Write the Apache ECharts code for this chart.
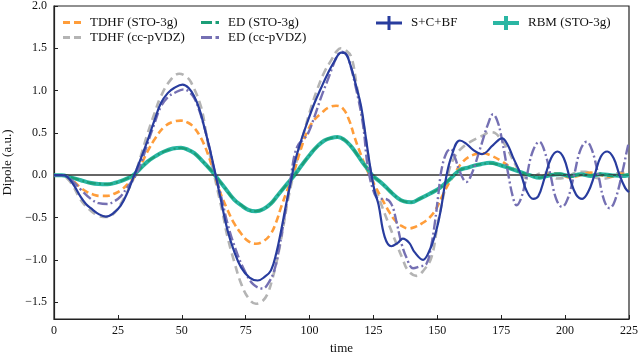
<!DOCTYPE html>
<html>
<head>
<meta charset="utf-8">
<script src="https://cdn.jsdelivr.net/npm/echarts@6/dist/echarts.min.js"></script>
<style>
  html, body { margin: 0; padding: 0; background: #fff; }
  #chart { width: 640px; height: 352px; }
</style>
</head>
<body>
<div id="chart"></div>
<script>
// [time, dipole] pairs
const tdhfSto = [
  [0,0],[3,0],[5.5,-0.02],[8,-0.08],[10.5,-0.15],[13,-0.2],[15.5,-0.23],[18,-0.245],[20.9,-0.245],
  [23.5,-0.22],[26.1,-0.18],[29,-0.1],[32,0],[34.5,0.15],[36.6,0.28],[39.5,0.43],[43.1,0.57],
  [46.5,0.63],[49.7,0.645],[52.5,0.62],[54.9,0.56],[57.5,0.44],[60.1,0.26],[62.7,0.02],[65,-0.2],
  [67.9,-0.41],[70.5,-0.57],[73.2,-0.69],[76,-0.78],[79,-0.81],[82,-0.78],[84.9,-0.69],[87,-0.55],
  [88.9,-0.375],[91,-0.2],[93.5,0],[96.5,0.3],[99.3,0.53],[102,0.66],[104.5,0.73],[107.5,0.8],
  [110.4,0.82],[113,0.79],[115.5,0.65],[117.6,0.45],[120,0.25],[122.8,0.04],[125.5,-0.12],
  [128,-0.26],[130.5,-0.4],[133.3,-0.53],[136,-0.6],[138.8,-0.63],[141.5,-0.61],[144,-0.57],
  [147,-0.5],[149.5,-0.4],[152,-0.24],[156,-0.02],[160,0.16],[164,0.24],[168,0.26],[170.4,0.24],
  [174.4,0.18],[178.4,0.1],[182.3,0.04],[186,0],[190,-0.02],[194,0.02],[198,0.01],[202,-0.03],
  [206,0],[210,0.03],[214,0],[218,-0.02],[222,0.02],[225,0.01]
];
const tdhfCc = [
  [0,0],[3,0],[5.2,-0.04],[7.5,-0.13],[9.8,-0.26],[12,-0.35],[14.4,-0.42],[17.5,-0.48],[20.9,-0.495],
  [23.5,-0.45],[26.1,-0.34],[28.8,-0.19],[31.4,-0.02],[34,0.23],[36.6,0.49],[39.2,0.72],[41.8,0.93],
  [45.7,1.13],[49,1.2],[51.5,1.17],[53.6,1.1],[57.5,0.81],[59.5,0.5],[61.4,0.18],[62.7,0],[66,-0.45],
  [67.9,-0.73],[70.5,-1.02],[73.2,-1.28],[76,-1.45],[79,-1.52],[81.5,-1.49],[83.6,-1.4],[85.5,-1.22],
  [87.5,-0.97],[89.5,-0.65],[91.5,-0.3],[94.1,0.06],[96,0.3],[98,0.53],[100.6,0.8],[103.2,1.03],
  [105.8,1.22],[108.5,1.36],[110.5,1.46],[112.2,1.5],[114,1.48],[116.3,1.4],[118.5,1.05],[121.5,0.53],
  [124.1,0.02],[126,-0.17],[128,-0.34],[131,-0.58],[134,-0.81],[136.3,-0.98],[138.5,-1.125],
  [141.8,-1.19],[144.5,-1.13],[147.7,-0.97],[150,-0.6],[152,-0.3],[154.8,0.08],[156.5,0.2],
  [158.8,0.3],[162.7,0.39],[167.9,0.47],[170.5,0.51],[172.5,0.5],[175,0.42],[177,0.335],[181,0.1],
  [183,0.02],[184.9,-0.04],[187.5,-0.02],[190,0.02],[193,0.03],[196.7,-0.04],[200,-0.03],[204,0.03],
  [208,0.04],[212,-0.03],[216,-0.04],[220,0.02],[225,0.04]
];
const edSto = [
  [0,0],[3,0],[6,-0.02],[10.5,-0.06],[14,-0.09],[17.5,-0.1],[20.9,-0.105],[24,-0.09],[26.1,-0.07],
  [28.5,-0.04],[31,0],[33.5,0.07],[36.6,0.16],[40,0.23],[43.1,0.28],[46.5,0.31],[49.7,0.32],
  [52.5,0.3],[54.9,0.26],[58,0.17],[61.4,0.06],[63,0],[66.6,-0.14],[70.5,-0.29],[73.2,-0.35],
  [76,-0.41],[79,-0.425],[82,-0.4],[84.9,-0.335],[87.5,-0.24],[90.2,-0.14],[94.1,0],[97,0.12],
  [100.6,0.26],[103,0.34],[105.8,0.41],[108.5,0.44],[111,0.45],[113.5,0.42],[116,0.35],[118.5,0.25],
  [120.5,0.16],[122.8,0.07],[124.5,0],[128.5,-0.1],[131.5,-0.19],[134.5,-0.27],[137,-0.31],
  [139.8,-0.32],[143,-0.28],[147,-0.22],[151,-0.15],[154.8,-0.05],[158.8,0.06],[162,0.09],
  [164,0.11],[167,0.13],[170.6,0.14],[174.4,0.12],[178.4,0.08],[182.3,0.04],[186.2,0],[190.1,-0.03],
  [194,0.01],[198,0.02],[202,-0.02],[206,0.01],[210,0],[214,0.02],[218,-0.01],[222,0],[225,0.01]
];
const edCc = [
  [0,0],[3,0],[5.5,-0.02],[8,-0.09],[10.5,-0.17],[14.4,-0.28],[17.5,-0.33],[20.9,-0.34],[23.5,-0.31],
  [26.1,-0.25],[29,-0.13],[32,0],[34.5,0.18],[36.6,0.375],[39.2,0.6],[41.8,0.81],[44.5,0.92],
  [47,0.97],[51,1.015],[53,0.98],[54.9,0.91],[56.9,0.76],[58.8,0.57],[60.8,0.33],[62.7,0.06],
  [65,-0.2],[67.9,-0.57],[71,-0.87],[74.5,-1.125],[78,-1.29],[81.7,-1.34],[84,-1.27],[86.2,-1.125],
  [88.2,-0.85],[90.2,-0.49],[92.8,0],[94.2,0.25],[95.8,0.37],[97.5,0.42],[99.5,0.5],[101.9,0.69],
  [104.5,0.92],[107.1,1.125],[109.5,1.32],[111,1.42],[112.6,1.46],[114,1.44],[115,1.4],[118,1.05],
  [120.9,0.6],[122.8,0.1],[125.4,-0.22],[127.4,-0.28],[129.4,-0.28],[132,-0.34],[134,-0.55],
  [136,-0.81],[138,-0.98],[140.5,-1.1],[143,-1.08],[145.7,-1.05],[147.5,-0.85],[149,-0.57],
  [150.5,-0.2],[151.6,0.06],[153.5,0.26],[155.2,0.31],[157,0.2],[158.8,0.04],[161.4,-0.08],
  [163.5,0.02],[166.6,0.3],[169.9,0.61],[171.8,0.72],[173.5,0.64],[175.1,0.45],[177.7,0.02],
  [179.5,-0.25],[181,-0.355],[182.8,-0.27],[184.9,-0.02],[187.3,0.28],[189.9,0.395],[192,0.28],
  [194.3,0],[196.5,-0.28],[198.8,-0.375],[201,-0.28],[203.5,0],[206,0.3],[208.4,0.395],[210.5,0.3],
  [213,0],[215.3,-0.3],[217.4,-0.39],[219.5,-0.3],[222.5,0.05],[224.7,0.36],[225,0.37]
];
const scbf = [
  [0,0],[3,0],[5.2,-0.02],[7.8,-0.12],[10.5,-0.26],[12.5,-0.34],[14.4,-0.39],[17.5,-0.46],[20.3,-0.49],
  [23.2,-0.45],[26.1,-0.36],[28.8,-0.2],[31.4,0],[34,0.2],[36.6,0.41],[39.2,0.64],[41.8,0.85],
  [44.5,0.97],[47,1.03],[50.3,1.07],[52.7,1.03],[54.9,0.93],[56.9,0.78],[58.8,0.57],[60.8,0.33],
  [62.7,0.08],[65,-0.25],[67.9,-0.65],[70.5,-0.9],[73.2,-1.09],[76.5,-1.21],[79.7,-1.245],[82.5,-1.2],
  [84.9,-1.125],[87,-0.92],[88.9,-0.65],[90.8,-0.35],[92.8,-0.06],[94.1,0.14],[96.7,0.41],[99.3,0.64],
  [101.9,0.85],[104.5,1.03],[107.1,1.2],[109.8,1.35],[112.4,1.45],[114,1.44],[116,1.3],[118,1.08],
  [120.2,0.81],[122,0.45],[123.5,0.14],[125.4,-0.18],[127,-0.35],[129.4,-0.73],[132,-0.84],
  [134.5,-0.8],[136.5,-0.75],[139,-0.8],[141.1,-0.91],[144.4,-1.0],[146.5,-0.92],[149,-0.72],
  [151.3,-0.42],[153.3,-0.05],[155.5,0.22],[158.8,0.41],[161,0.38],[164,0.3],[167.5,0.25],
  [171.8,0.355],[175.3,0.435],[177.5,0.36],[179.5,0.22],[182.8,0],[185,-0.19],[187.5,-0.28],
  [189.5,-0.25],[192,-0.03],[194.5,0.2],[197,0.28],[199.5,0.2],[202,-0.05],[204.3,-0.23],
  [206.7,-0.28],[209,-0.2],[211.5,0],[214,0.22],[216.5,0.28],[219,0.2],[221.3,0],[223.5,-0.15],
  [225,-0.2]
];
const rbm = [
  [0,0],[3,0],[6,-0.02],[10.5,-0.06],[14,-0.09],[17.5,-0.105],[20.9,-0.107],[24,-0.09],[26.1,-0.07],
  [28.5,-0.04],[31,0],[33.5,0.07],[36.6,0.16],[40,0.23],[43.1,0.28],[46.5,0.315],[49.7,0.325],
  [52.5,0.3],[54.9,0.26],[58,0.17],[61.4,0.06],[63,0],[66.6,-0.14],[70.5,-0.29],[73.2,-0.355],
  [76,-0.41],[79,-0.427],[82,-0.4],[84.9,-0.335],[87.5,-0.24],[90.2,-0.14],[94.1,0],[97,0.12],
  [100.6,0.26],[103,0.34],[105.8,0.41],[108.5,0.44],[111,0.45],[113.5,0.42],[116,0.35],[118.5,0.25],
  [120.5,0.16],[122.8,0.07],[124.5,0],[128.5,-0.1],[131.5,-0.19],[134.5,-0.27],[137,-0.31],
  [139.8,-0.32],[143,-0.28],[147,-0.22],[151,-0.15],[154.8,-0.05],[158.8,0.06],[162,0.09],
  [164,0.11],[167,0.13],[170.6,0.146],[174.4,0.12],[178.4,0.08],[182.3,0.04],[186.2,0],[190.1,-0.03],
  [194,0],[198,0.01],[202,-0.01],[206,0.01],[210,-0.01],[214,0.01],[218,0],[222,-0.01],[225,0]
];

const seriesNames = ['TDHF (STO-3g)', 'TDHF (cc-pVDZ)', 'ED (STO-3g)', 'ED (cc-pVDZ)', 'S+C+BF', 'RBM (STO-3g)'];
const seriesColors = ['#ff9d3a', '#b4b4b4', '#1b9e77', '#7570b3', '#283c9e', '#2ab6a3'];
const xTicks = [0, 225, 25];
const yRange = [-1.7, 2.0];

const font = 'Liberation Serif, Times New Roman, serif';
const dashIcon = 'path://M0,0h7v3h-7zM11,0h7v3h-7z';
const dashDotIcon = 'path://M0,0h11v3h-11zM14.5,0h3.5v3h-3.5z';
const barIcon = 'path://M0,5.5h26v3h-26zM11.5,0h3v14h-3z';
const thickBarIcon = 'path://M0,5h26v4h-26zM11,0h4v14h-4z';

function line(i, data, width, dash, z) {
  return {
    name: seriesNames[i],
    type: 'line',
    data: data,
    symbol: 'none',
    smooth: 0.4,
    z: z,
    color: seriesColors[i],
    itemStyle: { color: seriesColors[i] },
    lineStyle: { color: seriesColors[i], width: width, type: dash, cap: 'butt' }
  };
}

const legendBase = {
  orient: 'vertical',
  top: 11,
  itemGap: 2,
  selectedMode: false,
  itemStyle: { borderWidth: 0 },
  textStyle: { fontFamily: font, fontSize: 13, color: '#111', padding: [0, 0, 0, 4] }
};

const chart = echarts.init(document.getElementById('chart'));
const greySeries = line(1, tdhfCc, 2.6, [8, 5], 2);
greySeries.markLine = {
  silent: true,
  symbol: 'none',
  label: { show: false },
  lineStyle: { color: '#333', width: 1.5, type: 'solid' },
  data: [{ yAxis: 0 }]
};

chart.setOption({
  animation: false,
  grid: {
    left: 54, right: 11, top: 6, bottom: 33,
    outerBoundsMode: 'none', containLabel: false,
    show: true, borderColor: '#222', borderWidth: 1.2
  },
  legend: [
    Object.assign({}, legendBase, { left: 58, itemWidth: 18, itemHeight: 3,
      data: [{ name: seriesNames[0], icon: dashIcon }, { name: seriesNames[1], icon: dashIcon }] }),
    Object.assign({}, legendBase, { left: 196, itemWidth: 18, itemHeight: 3,
      data: [{ name: seriesNames[2], icon: dashDotIcon }, { name: seriesNames[3], icon: dashDotIcon }] }),
    Object.assign({}, legendBase, { left: 371, itemWidth: 26, itemHeight: 14,
      data: [{ name: seriesNames[4], icon: barIcon }] }),
    Object.assign({}, legendBase, { left: 488, itemWidth: 26, itemHeight: 14,
      data: [{ name: seriesNames[5], icon: thickBarIcon }] })
  ],
  xAxis: {
    type: 'value',
    min: xTicks[0], max: xTicks[1], interval: xTicks[2],
    name: 'time', nameLocation: 'middle', nameGap: 21,
    nameTextStyle: { fontFamily: font, fontSize: 13, color: '#111' },
    axisLine: { onZero: false, lineStyle: { color: '#222', width: 1.2 } },
    axisTick: { inside: true, length: 4, lineStyle: { color: '#222' } },
    axisLabel: { fontFamily: font, fontSize: 12, color: '#111', margin: 6 },
    splitLine: { show: false }
  },
  yAxis: {
    type: 'value',
    min: yRange[0], max: yRange[1], splitNumber: 7,
    name: 'Dipole (a.u.)', nameLocation: 'middle', nameGap: 26,
    nameTextStyle: { fontFamily: font, fontSize: 13, color: '#111' },
    axisLine: { show: true, lineStyle: { color: '#222', width: 1.2 } },
    axisTick: { inside: true, length: 4, lineStyle: { color: '#222' } },
    axisLabel: {
      fontFamily: font, fontSize: 12, color: '#111', margin: 7, showMinLabel: false,
      formatter: v => (Math.abs(v * 2 - Math.round(v * 2)) > 1e-6 ? '' : v.toFixed(1).replace('-', '\u2212'))
    },
    splitLine: { show: false }
  },
  series: [
    greySeries,
    line(0, tdhfSto, 2.6, [7, 4], 3),
    line(5, rbm, 4, 'solid', 4),
    line(2, edSto, 2.2, [9, 3, 2, 3], 5),
    line(3, edCc, 2.4, [10, 3, 2, 3], 6),
    line(4, scbf, 2.2, 'solid', 7)
  ]
});
</script>
</body>
</html>
